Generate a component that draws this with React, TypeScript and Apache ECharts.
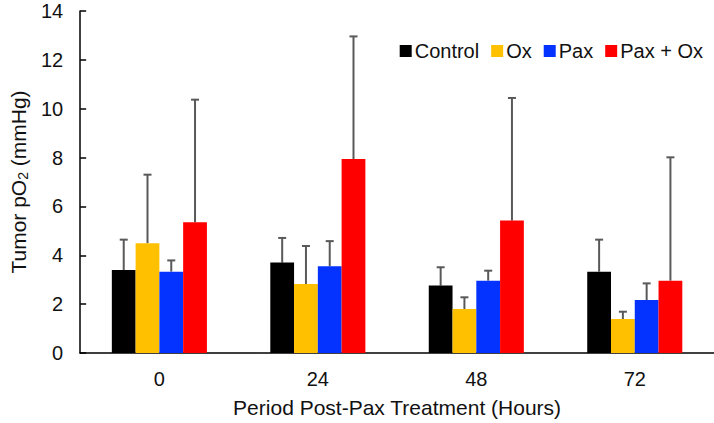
import React, { useEffect, useRef } from "react";
import * as echarts from "echarts";

const categories = ["0", "24", "48", "72"];
const seriesNames = ["Control", "Ox", "Pax", "Pax + Ox"];
const seriesColors = ["#000000", "#FFC000", "#0433FF", "#FF0000"];
const controlMean = [3.4, 3.7, 2.76, 3.33];
const controlUpper = [4.64, 4.71, 3.51, 4.64];
const oxMean = [4.49, 2.82, 1.8, 1.39];
const oxUpper = [7.3, 4.38, 2.28, 1.69];
const paxMean = [3.33, 3.55, 2.96, 2.17];
const paxUpper = [3.79, 4.58, 3.37, 2.85];
const paxOxMean = [5.35, 7.94, 5.42, 2.96];
const paxOxUpper = [10.37, 12.96, 10.44, 8.01];

const means = [controlMean, oxMean, paxMean, paxOxMean];
const uppers = [controlUpper, oxUpper, paxUpper, paxOxUpper];

const FONT = "'Liberation Sans', Arial, sans-serif";
const TEXT = "#111111";

export default function App() {
  const ref = useRef<HTMLDivElement>(null);
  useEffect(() => {
    if (!ref.current) return;
    const chart = echarts.init(ref.current, undefined, { renderer: "svg" });
    const barSeries = means.map((m, i) => ({
      name: seriesNames[i],
      type: "bar",
      data: m,
      barGap: "0%",
      barCategoryGap: "40%",
      itemStyle: { color: seriesColors[i] },
      z: 2,
    }));
    const errSeries = means.map((m, i) => ({
      type: "custom",
      name: seriesNames[i] + " err",
      data: m.map((v, j) => [j, v, uppers[i][j]]),
      z: 1,
      silent: true,
      renderItem: (params: any, api: any) => {
        const idx = api.value(0);
        const lo = api.coord([idx, api.value(1)]);
        const hi = api.coord([idx, api.value(2)]);
        const band = api.size([1, 0])[0];
        const bw = (band * 0.6) / 4;
        const x = lo[0] + (i - 1.5) * bw;
        const style = { stroke: "#595959", lineWidth: 2 };
        return {
          type: "group",
          children: [
            { type: "line", shape: { x1: x, y1: lo[1], x2: x, y2: hi[1] }, style },
            { type: "line", shape: { x1: x - 4, y1: hi[1], x2: x + 4, y2: hi[1] }, style },
          ],
        };
      },
      encode: { x: 0, y: [1, 2] },
    }));
    chart.setOption({
      animation: false,
      textStyle: { fontFamily: FONT },
      legend: {
        data: seriesNames.map((n, i) => ({ name: n, itemStyle: { color: seriesColors[i] } })),
        right: 6,
        top: 36,
        itemWidth: 12,
        itemHeight: 12,
        itemGap: 12,
        icon: "rect",
        textStyle: { fontSize: 20, color: TEXT, fontFamily: FONT, padding: [0, 0, 0, -2] },
      },
      grid: { left: 70, right: 0, top: 11, bottom: 69, containLabel: false },
      xAxis: {
        type: "category",
        data: categories,
        name: "Period Post-Pax Treatment (Hours)",
        nameLocation: "middle",
        nameGap: 44,
        nameTextStyle: { fontSize: 21, color: TEXT, fontFamily: FONT },
        axisLine: { lineStyle: { color: "#000", width: 1.5 } },
        axisTick: { show: false },
        axisLabel: { fontSize: 20, color: TEXT, margin: 16, fontFamily: FONT },
      },
      yAxis: {
        type: "value",
        min: 0,
        max: 14,
        interval: 2,
        name: "Tumor pO{sub|2} (mmHg)",
        nameLocation: "middle",
        nameGap: 37,
        nameTextStyle: {
          fontSize: 21,
          color: TEXT,
          fontFamily: FONT,
          rich: {
            sub: { fontSize: 14, color: TEXT, fontFamily: FONT, verticalAlign: "bottom", padding: [9, 0, 0, 0] },
          },
        },
        axisLine: { show: true, lineStyle: { color: "#000", width: 1.5 } },
        axisTick: { show: true, inside: true, length: 6, lineStyle: { color: "#000", width: 1.5 } },
        splitLine: { show: false },
        axisLabel: { fontSize: 20, color: TEXT, margin: 17, fontFamily: FONT },
      },
      series: [...errSeries, ...barSeries],
    });
    return () => chart.dispose();
  }, []);
  return (
    <div
      ref={ref}
      style={{ position: "fixed", left: 0, top: 0, width: 714, height: 423, background: "#fff" }}
    />
  );
}
